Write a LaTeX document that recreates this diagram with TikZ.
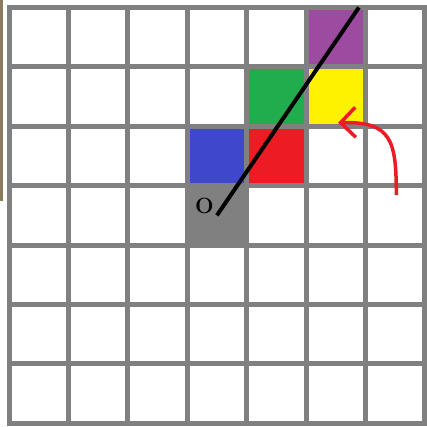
\documentclass[tikz,border=0pt]{standalone}
\usepackage{tikz}
\usetikzlibrary{arrows.meta}
\definecolor{gridgray}{HTML}{808080}
\definecolor{cellpurple}{HTML}{9D4BA1}
\definecolor{cellgreen}{HTML}{21AC4D}
\definecolor{cellyellow}{HTML}{FFF200}
\definecolor{cellblue}{HTML}{3F48CC}
\definecolor{cellred}{HTML}{ED1C24}
\definecolor{edgebrown}{HTML}{8B7B5E}

\begin{document}
\begin{tikzpicture}[x=59.4pt, y=59.4pt]
  \useasboundingbox (-0.152,-0.062) rectangle (7.037,7.126);
  \fill[edgebrown] (-0.152,3.743) rectangle (-0.101,7.126);

  % Coloured cells
  \fill[cellpurple] (5,6) rectangle (6,7);
  \fill[cellgreen] (4,5) rectangle (5,6);
  \fill[cellyellow] (5,5) rectangle (6,6);
  \fill[cellblue] (3,4) rectangle (4,5);
  \fill[cellred] (4,4) rectangle (5,5);
  \fill[gridgray] (3,3) rectangle (4,4);

  % Grid
  \foreach \k in {0,...,7} {
    \draw[gridgray, line width=5pt] (\k,-0.04) -- (\k,7.04);
    \draw[gridgray, line width=5pt] (-0.04,\k) -- (7.04,\k);
  }

  % Origin and ray
  \node[font=\fontsize{22}{22}\selectfont\bfseries] (orig) at (3.29,3.66) {O};
  \coordinate (start) at (3.5,3.5);
  \coordinate (far) at (5.89,7);
  \draw[black, line width=4pt] (start) -- (far);

  % Red arrow
  \coordinate (tail) at (6.52,3.84);
  \coordinate (tip) at (5.54,5.06);
  \draw[cellred, line width=3.5pt, -{Straight Barb[length=15pt, width=30pt, line width=3.5pt]}]
    (tail) .. controls (6.52,4.75) and (6.45,5.08) .. (tip);
\end{tikzpicture}
\end{document}
